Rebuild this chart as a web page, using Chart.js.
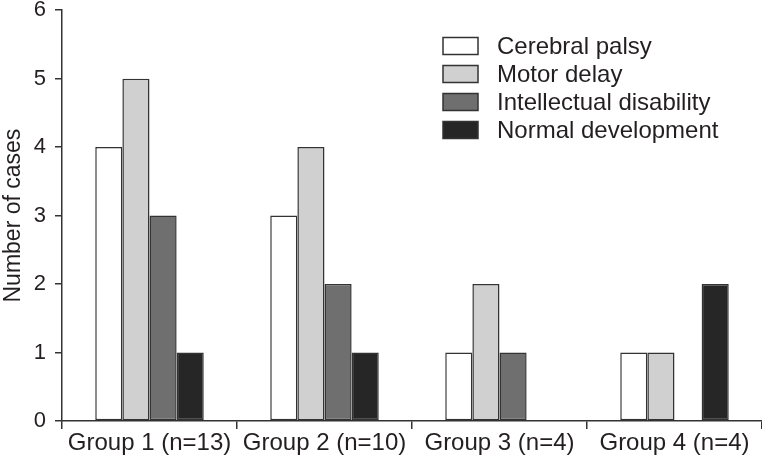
<!DOCTYPE html>
<html>
<head>
<meta charset="utf-8">
<script src="https://cdn.jsdelivr.net/npm/chart.js@4/dist/chart.umd.min.js"></script>
<style>
  html, body { margin: 0; padding: 0; background: #fff; overflow: hidden; }
  #wrap { width: 762px; height: 468px; position: relative; margin-top: -6px; }
</style>
</head>
<body>
<div id="wrap"><canvas id="chart_cases"></canvas></div>
<script>
// ----------------------- data -----------------------
const groups = ["Group 1 (n=13)", "Group 2 (n=10)", "Group 3 (n=4)", "Group 4 (n=4)"];
const cerebralPalsy = [4, 3, 1, 1];
const motorDelay = [5, 4, 2, 1];
const intellectualDisability = [3, 2, 1, 0];
const normalDevelopment = [1, 1, 0, 2];
const yTicks = [0, 1, 2, 3, 4, 5, 6];

const FONT = "'Liberation Sans', Arial, Helvetica, sans-serif";
const INK = "#231f20";
const EDGE = "#333333";

// legend drawn in the top right of the plot, like the original
// (canvas sits 6px higher than the page, hence the +6)
const boxLegend = {
    id: "boxLegend",
    afterDraw(chart) {
        const ctx = chart.ctx;
        ctx.save();
        ctx.font = "24px " + FONT;
        ctx.textBaseline = "middle";
        chart.data.datasets.forEach((ds, i) => {
            const y = 52 + i * 28;
            ctx.fillStyle = ds.backgroundColor;
            ctx.fillRect(443, y - 8.5, 35, 17);
            ctx.strokeStyle = EDGE;
            ctx.lineWidth = 1.5;
            ctx.strokeRect(443, y - 8.5, 35, 17);
            ctx.fillStyle = INK;
            ctx.fillText(ds.label, 497, y + 1);
        });
        ctx.restore();
    }
};

function makeSet(label, values, color) {
    return {
        label: label,
        data: values,
        backgroundColor: color,
        borderColor: EDGE,
        borderWidth: 1.5,
        borderSkipped: false,
        categoryPercentage: 0.62,
        barPercentage: 1.0
    };
}

new Chart(document.getElementById("chart_cases"), {
    type: "bar",
    data: {
        labels: groups,
        datasets: [
            makeSet("Cerebral palsy", cerebralPalsy, "#ffffff"),
            makeSet("Motor delay", motorDelay, "#d0d0d0"),
            makeSet("Intellectual disability", intellectualDisability, "#6f6f6f"),
            makeSet("Normal development", normalDevelopment, "#262626")
        ]
    },
    options: {
        responsive: true,
        maintainAspectRatio: false,
        animation: false,
        layout: { padding: 0 },
        plugins: {
            legend: { display: false },
            tooltip: { enabled: false }
        },
        scales: {
            x: {
                offset: true,
                afterFit(scale) {
                    scale.height = 41;
                },
                grid: {
                    offset: true,
                    drawOnChartArea: false,
                    drawTicks: true,
                    tickLength: 8,
                    color: EDGE,
                    lineWidth: 1.5
                },
                border: { display: true, color: EDGE, width: 1.5 },
                ticks: {
                    color: INK,
                    font: { family: FONT, size: 24 },
                    padding: 0,
                    maxRotation: 0,
                    autoSkip: false
                }
            },
            y: {
                min: 0,
                max: 6,
                afterBuildTicks(scale) {
                    scale.ticks = yTicks.map(v => ({ value: v }));
                },
                afterFit(scale) {
                    scale.width = 62;
                },
                grid: {
                    drawOnChartArea: false,
                    drawTicks: true,
                    tickLength: 7,
                    color: EDGE,
                    lineWidth: 1.5
                },
                border: { display: true, color: EDGE, width: 1.5 },
                ticks: {
                    color: INK,
                    font: { family: FONT, size: 22, lineHeight: 0.65 },
                    padding: 9
                },
                title: {
                    display: true,
                    text: "Number of cases",
                    color: INK,
                    font: { family: FONT, size: 23 },
                    padding: { top: 0, bottom: 0 }
                }
            }
        }
    },
    plugins: [boxLegend]
});
</script>
</body>
</html>
